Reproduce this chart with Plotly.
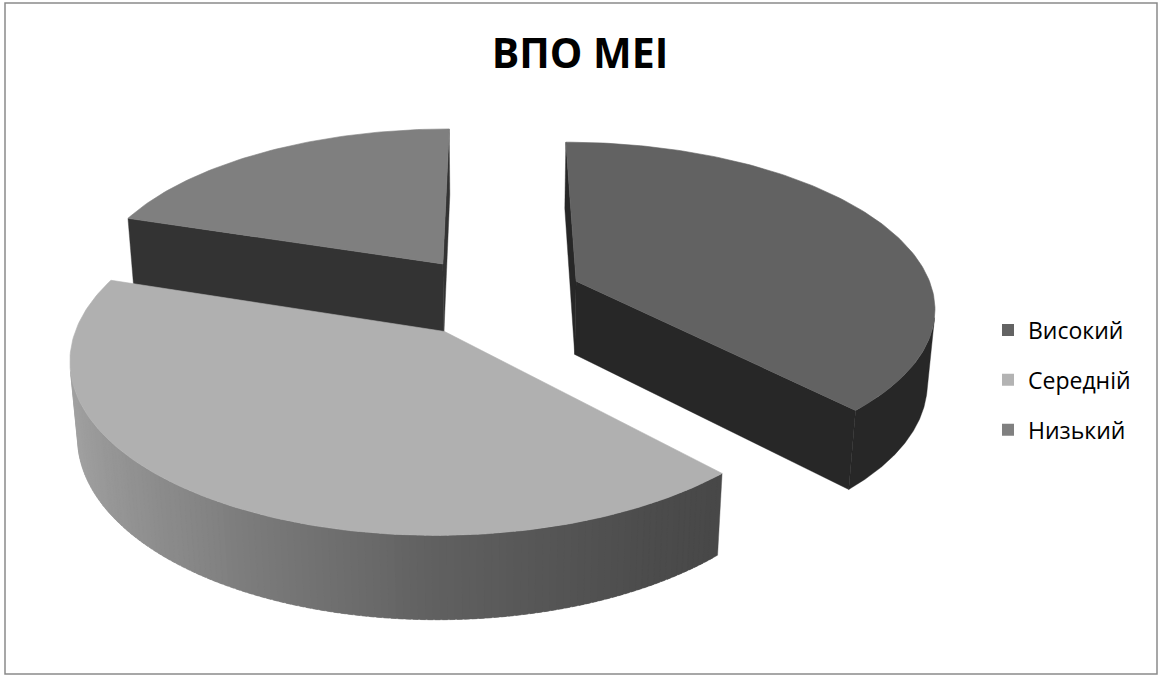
import numpy as np
import plotly.graph_objects as go

# ---- data ----
categories = ["Високий", "Середній", "Низький"]
values = [38, 42, 20]
title_text = "ВПО МЕІ"

# ---- styling ----
top_colors = ["#626262", "#b0b0b0", "#7f7f7f"]
side_colors = ["#272727", None, "#333333"]   # None -> shaded wall
legend_colors = ["#636363", "#b3b3b3", "#808080"]
FONT = "Open Sans"

W, H = 1158, 675

# camera / projection of the 3-D pie
CX, CY = 494.0, 296.0        # screen position of the pie axis
SCALE = 358.0                # pixels per unit radius
PHI = np.radians(27.1)       # elevation of the view
DIST = 6.16                  # perspective distance (in radii)
THICK = 0.236                # pie height (in radii)
EXPLODE = 0.25               # slice explosion (in radii)

sphi, cphi = np.sin(PHI), np.cos(PHI)
camera = np.array([0.0, -DIST * cphi, DIST * sphi])


def project(X, Y, Z):
    X, Y, Z = np.asarray(X, float), np.asarray(Y, float), np.asarray(Z, float)
    ys = Y * sphi + Z * cphi
    dep = Y * cphi - Z * sphi
    k = DIST / (DIST + dep)
    return CX + SCALE * X * k, CY - SCALE * ys * k


def faces_camera(normal, point):
    return float(np.dot(normal, camera - point)) > 0


def shaded_gray(s):
    # lighter on the left of the wall, darker towards the right
    g = np.interp(s, [-1.0, -0.45, 0.0, 0.5, 0.7, 1.0], [163, 124, 96, 76, 71, 66])
    g = int(round(g))
    return f"rgb({g},{g},{g})"


def poly_trace(xs, ys, color, lw=0.6):
    xs = list(xs) + [xs[0]]
    ys = list(ys) + [ys[0]]
    return go.Scatter(
        x=xs, y=ys, mode="lines", fill="toself", fillcolor=color,
        line=dict(color=color, width=lw), hoverinfo="skip", showlegend=False,
    )


def wall_quad(ox, oy, t0, t1, n=6):
    t = np.linspace(t0, t1, n)
    X = np.concatenate([ox + np.sin(t), ox + np.sin(t[::-1])])
    Y = np.concatenate([oy + np.cos(t), oy + np.cos(t[::-1])])
    Z = np.concatenate([np.zeros(n), np.full(n, -THICK)])
    return project(X, Y, Z)


# slice angles (clockwise from the far side)
total = float(sum(values))
bounds = np.concatenate([[0.0], np.cumsum(values) / total * 360.0])

slices = []
for i, cat in enumerate(categories):
    a0, a1 = bounds[i], bounds[i + 1]
    mid = np.radians((a0 + a1) / 2.0)
    ox, oy = EXPLODE * np.sin(mid), EXPLODE * np.cos(mid)
    slices.append(dict(i=i, a0=a0, a1=a1, ox=ox, oy=oy))

# paint far slices first
slices.sort(key=lambda s: -s["oy"])

traces = []
for s in slices:
    i, a0, a1, ox, oy = s["i"], s["a0"], s["a1"], s["ox"], s["oy"]
    walls = []

    # visible part of the outer curved wall
    nseg = int(np.ceil((a1 - a0) / 1.0))
    edges = np.radians(np.linspace(a0, a1, nseg + 1))
    vis = []
    for t0, t1 in zip(edges[:-1], edges[1:]):
        tm = 0.5 * (t0 + t1)
        n = np.array([np.sin(tm), np.cos(tm), 0.0])
        p = np.array([ox + np.sin(tm), oy + np.cos(tm), -THICK / 2])
        if faces_camera(n, p):
            vis.append((t0, t1))
    if vis:
        if side_colors[i]:
            px, py = wall_quad(ox, oy, vis[0][0], vis[-1][1], n=4 * len(vis) + 2)
            walls.append((0.0, px, py, side_colors[i]))
        else:
            # shaded wall: overlapping strips so no seams show
            for t0, t1 in vis:
                px, py = wall_quad(ox, oy, t0, min(t1 + 0.7 * (t1 - t0), vis[-1][1]), n=3)
                walls.append((0.0, px, py, shaded_gray(np.sin(0.5 * (t0 + t1)))))

    # the two radial walls
    for ang, nang in ((a0, a0 - 90.0), (a1, a1 + 90.0)):
        ar, nr = np.radians(ang), np.radians(nang)
        n = np.array([np.sin(nr), np.cos(nr), 0.0])
        p = np.array([ox + 0.5 * np.sin(ar), oy + 0.5 * np.cos(ar), -THICK / 2])
        if not faces_camera(n, p):
            continue
        X = [ox, ox + np.sin(ar), ox + np.sin(ar), ox]
        Y = [oy, oy + np.cos(ar), oy + np.cos(ar), oy]
        Z = [0, 0, -THICK, -THICK]
        px, py = project(X, Y, Z)
        color = side_colors[i] if side_colors[i] else shaded_gray(np.sin(nr))
        walls.append((1.0, px, py, color))

    for _, px, py, color in walls:
        traces.append(poly_trace(px, py, color, lw=0.4))

    # top face
    arc = np.radians(np.linspace(a0, a1, int(np.ceil(a1 - a0)) + 2))
    X = np.concatenate([[ox], ox + np.sin(arc)])
    Y = np.concatenate([[oy], oy + np.cos(arc)])
    Z = np.zeros_like(X)
    px, py = project(X, Y, Z)
    traces.append(poly_trace(px, py, top_colors[i]))

# legend entries
for cat, col in zip(categories, legend_colors):
    traces.append(go.Scatter(
        x=[None], y=[None], mode="markers", name=cat, legendgroup=cat,
        marker=dict(symbol="square", size=12, color=col),
    ))

fig = go.Figure(traces)
fig.update_layout(
    width=W, height=H,
    margin=dict(l=0, r=0, t=0, b=0),
    paper_bgcolor="white", plot_bgcolor="white",
    xaxis=dict(range=[0, W], visible=False, fixedrange=True),
    yaxis=dict(range=[H, 0], visible=False, fixedrange=True),
    title=dict(
        text=title_text, x=580 / W, y=1 - 54 / H, xanchor="center", yanchor="middle",
        font=dict(family=FONT, size=41, color="#000000", weight=700),
    ),
    legend=dict(
        x=988 / W, y=1 - 380 / H, xanchor="left", yanchor="middle",
        font=dict(family=FONT, size=23, color="#000000"),
        tracegroupgap=17, itemsizing="constant", bgcolor="rgba(0,0,0,0)",
    ),
    shapes=[dict(
        type="rect", xref="x", yref="y", x0=5, x1=1157, y0=3, y1=674,
        line=dict(color="#8a8a8a", width=1.5), fillcolor="rgba(0,0,0,0)", layer="above",
    )],
)

fig.write_html("out.html")
